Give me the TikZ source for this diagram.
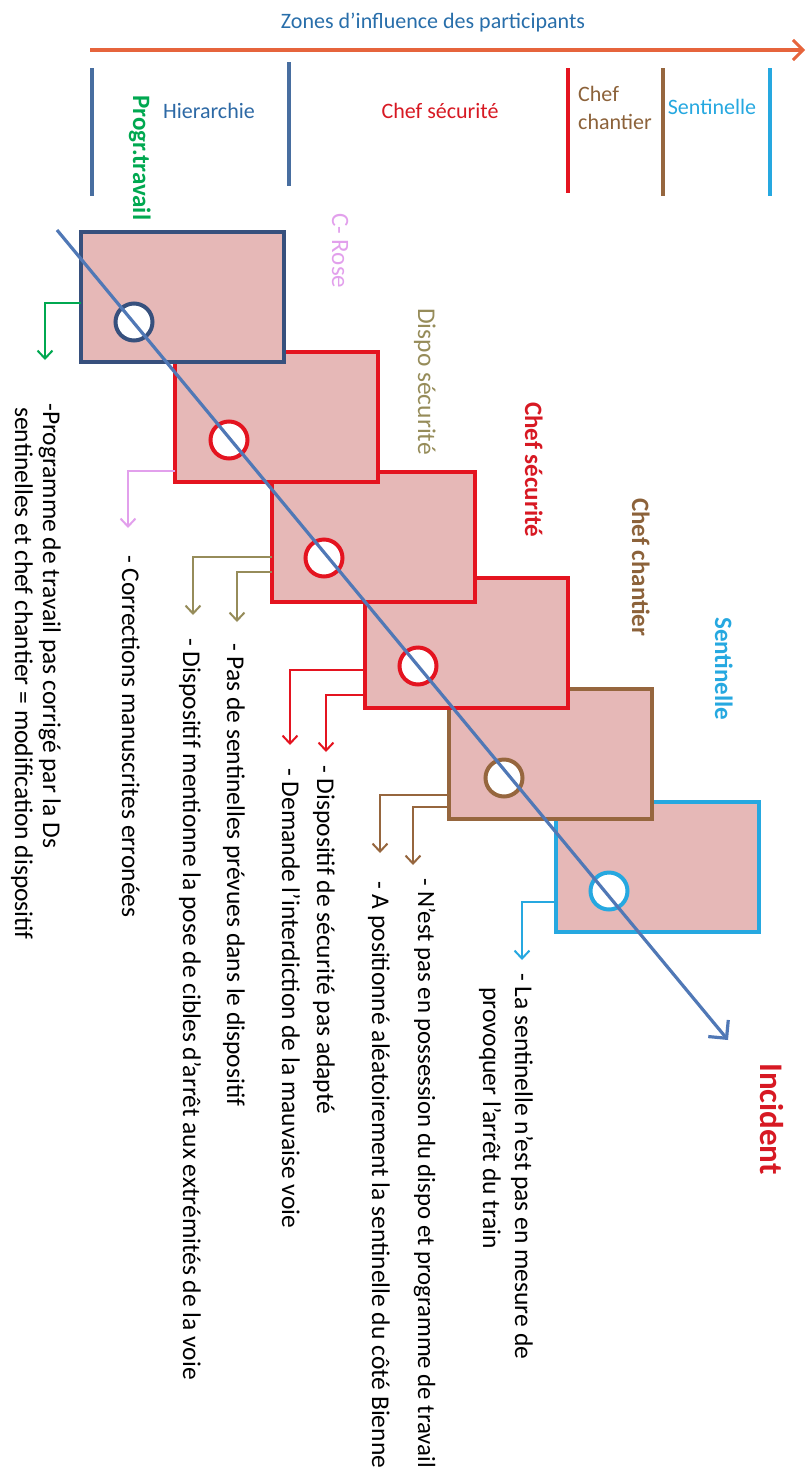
\documentclass[tikz,border=0pt]{standalone}
\usepackage{fontspec}
\setmainfont{Carlito}
\usetikzlibrary{arrows.meta}
\definecolor{boxpink}{RGB}{230,184,183}
\definecolor{navy}{RGB}{55,80,125}
\definecolor{rred}{RGB}{228,20,32}
\definecolor{rbrown}{RGB}{150,102,62}
\definecolor{lblue}{RGB}{38,168,224}
\definecolor{diagblue}{RGB}{80,120,182}
\definecolor{zoneblue}{RGB}{72,110,160}
\definecolor{headblue}{RGB}{40,110,170}
\definecolor{hierblue}{RGB}{45,105,165}
\definecolor{gren}{RGB}{0,168,80}
\definecolor{rose}{RGB}{226,160,236}
\definecolor{olive}{RGB}{150,140,90}
\definecolor{orng}{RGB}{230,100,60}
\definecolor{labred}{RGB}{215,25,35}
\definecolor{labbrown}{RGB}{140,98,58}
\begin{document}
\begin{tikzpicture}[x=1pt,y=-1pt,
  box/.style={draw, line width=4.5pt, fill=boxpink, minimum width=203pt, minimum height=130pt, inner sep=0pt, outer sep=0pt, anchor=north west},
  ring/.style={circle, draw, line width=4pt, fill=white, minimum size=37pt, inner sep=0pt},
  conn/.style={line width=2pt, -{Straight Barb[length=8pt,width=15pt,line width=2pt]}},
  desc/.style={rotate=-90, anchor=base west, inner sep=0pt, font=\fontsize{25.5}{28}\selectfont},
  lab/.style={rotate=-90, anchor=base west, inner sep=0pt, font=\fontsize{25}{30}\selectfont\bfseries},
  zone/.style={line width=3.5pt},
  head/.style={inner sep=0pt, font=\fontsize{22}{28}\selectfont}]
\useasboundingbox (0,0) rectangle (806,1481);

% header
\node[head, text=headblue] (title) at (433,23) {Zones d’influence des participants};
\coordinate (hs) at (90,50);
\coordinate (he) at (805,50);
\draw[orng, line width=3.5pt, -{Straight Barb[length=10pt,width=20pt,line width=3pt]}] (hs) -- (he);

\draw[zone, zoneblue] (92,68) -- (92,196);
\draw[zone, zoneblue] (289,62) -- (289,186);
\draw[zone, rred] (568,68) -- (568,193);
\draw[zone, rbrown] (663,68) -- (663,196);
\draw[zone, lblue] (770,68) -- (770,196);

\node[head, text=hierblue] (zh) at (209,111) {Hierarchie};
\node[head, text=labred] (zc) at (440,111) {Chef sécurité};
\node[head, text=labbrown, anchor=west, align=left] (zk) at (578,108) {Chef\\chantier};
\node[head, text=lblue] (zs) at (712,107) {Sentinelle};

% boxes (later ones underneath)
\node[box, draw=lblue] (b6) at (556,802) {};
\node[box, draw=rbrown] (b5) at (449,689) {};
\node[box, draw=rred] (b4) at (365,578) {};
\node[box, draw=rred] (b3) at (272,472) {};
\node[box, draw=rred] (b2) at (175,352) {};
\node[box, draw=navy] (b1) at (81,232) {};

% rings
\node[ring, draw=navy] (c1) at (134,322) {};
\node[ring, draw=rred] (c2) at (229,440) {};
\node[ring, draw=rred] (c3) at (324,558) {};
\node[ring, draw=rred] (c4) at (418,666) {};
\node[ring, draw=rbrown] (c5) at (504,778) {};
\node[ring, draw=lblue] (c6) at (609,891) {};

% diagonal
\coordinate (ds) at (57,230);
\coordinate (de) at (728,1040);
\draw[diagblue, line width=3.2pt, -{Straight Barb[length=13pt,width=26pt,line width=3.2pt]}] (ds) -- (de);

% labels
\node[lab, text=gren] (lp) at (133,95) {Progr.travail};
\node[lab, text=rose, font=\fontsize{25}{30}\selectfont] (lr) at (332,213) {C- Rose};
\node[lab, text=olive, font=\fontsize{25.5}{30}\selectfont] (ld) at (418,308) {Dispo sécurité};
\node[lab, text=labred] (ls) at (525,402) {Chef sécurité};
\node[lab, text=labbrown] (lc) at (632,498) {Chef chantier};
\node[lab, text=lblue] (lse) at (715,617) {Sentinelle};
\node[lab, text=labred, font=\fontsize{33}{36}\selectfont\bfseries] (li) at (760,1063) {Incident};

% connectors
\coordinate (a1) at (45,360);
\coordinate (a2) at (128,528);
\coordinate (a3a) at (237,622);
\coordinate (a3b) at (193,615);
\coordinate (a4a) at (326,752);
\coordinate (a4b) at (290,745);
\coordinate (a5a) at (413,865);
\coordinate (a5b) at (380,853);
\coordinate (a6) at (522,960);
\draw[conn, gren] ([yshift=-6pt]b1.west) -| (a1);
\draw[conn, rose] ([yshift=-53.5pt]b2.west) -| (a2);
\draw[conn, olive] ([yshift=-20pt]b3.west) -| (a3b);
\draw[conn, olive] ([yshift=-35pt]b3.west) -| (a3a);
\draw[conn, rred] ([yshift=-27pt]b4.west) -| (a4b);
\draw[conn, rred] ([yshift=-52pt]b4.west) -| (a4a);
\draw[conn, rbrown] ([yshift=-41pt]b5.west) -| (a5b);
\draw[conn, rbrown] ([yshift=-53pt]b5.west) -| (a5a);
\draw[conn, lblue] ([yshift=-35pt]b6.west) -| (a6);

% descriptions
\node[desc] (t1a) at (43,403) {-Programme de travail pas corrigé par la Ds};
\node[desc] (t1b) at (15,407) {sentinelles et chef chantier = modification dispositif};
\node[desc] (t2) at (122,555) {- Corrections manuscrites erronées};
\node[desc] (t3a) at (227,643) {- Pas de sentinelles prévues dans le dispositif};
\node[desc] (t3b) at (183,638) {- Dispositif mentionne la pose de cibles d’arrêt aux extrémités de la voie};
\node[desc] (t4a) at (317,765) {- Dispositif de sécurité pas adapté};
\node[desc] (t4b) at (282,768) {- Demande l’interdiction de la mauvaise voie};
\node[desc, font=\fontsize{24.8}{28}\selectfont] (t5a) at (418,878) {- N’est pas en possession du dispo et programme de travail};
\node[desc] (t5b) at (372,881) {- A positionné aléatoirement la sentinelle du côté Bienne};
\node[desc] (t6a) at (515,973) {- La sentinelle n’est pas en mesure de};
\node[desc] (t6b) at (483,987) {provoquer l’arrêt du train};
\end{tikzpicture}
\end{document}
